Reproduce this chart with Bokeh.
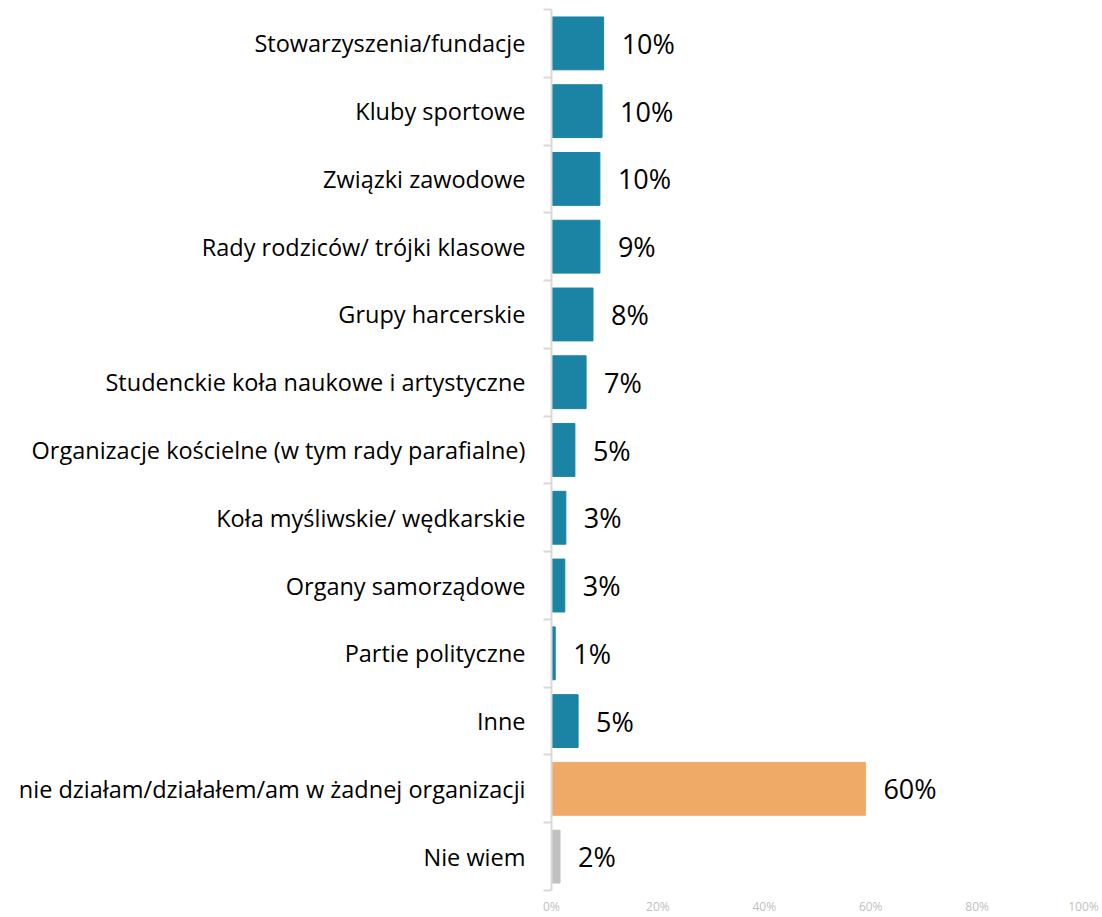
from bokeh.plotting import figure
from bokeh.models import Range1d, FixedTicker, ColumnDataSource
from bokeh.core.properties import value
from bokeh.embed import file_html
from bokeh.resources import INLINE

categories = [
    "Stowarzyszenia/fundacje",
    "Kluby sportowe",
    "Związki zawodowe",
    "Rady rodziców/ trójki klasowe",
    "Grupy harcerskie",
    "Studenckie koła naukowe i artystyczne",
    "Organizacje kościelne (w tym rady parafialne)",
    "Koła myśliwskie/ wędkarskie",
    "Organy samorządowe",
    "Partie polityczne",
    "Inne",
    "nie działam/działałem/am w żadnej organizacji",
    "Nie wiem",
]
values = [9.8, 9.5, 9.1, 9.1, 7.8, 6.5, 4.4, 2.7, 2.5, 0.7, 5.0, 59.0, 1.6]
labels = ["10%", "10%", "10%", "9%", "8%", "7%", "5%", "3%", "3%", "1%", "5%", "60%", "2%"]
kinds = ["org"] * 11 + ["none", "dk"]
palette = {"org": "#1b84a5", "none": "#f0aa67", "dk": "#c0c0c0"}
x_ticks = [0, 20, 40, 60, 80, 100]

n = len(categories)
pos = [i + 0.5 for i in range(n)]
src = ColumnDataSource(dict(
    y=pos, v=values, lab=labels, color=[palette[k] for k in kinds]
))

p = figure(width=1102, height=917, output_backend="svg", toolbar_location=None,
           x_range=Range1d(0, 100), y_range=Range1d(n, 0),
           min_border_left=551, min_border_right=19, min_border_top=9, min_border_bottom=27)
p.outline_line_color = None
p.xgrid.visible = False
p.ygrid.visible = False
p.background_fill_color = "white"
p.border_fill_color = "white"

p.hbar(y="y", right="v", left=0, height=0.78, color="color", source=src)
p.text(x="v", y="y", text="lab", source=src, x_offset=18, text_align="left",
       text_baseline="middle", text_font=value("Open Sans"), text_font_size="27px",
       text_color="#000000")

# y axis
ya = p.yaxis[0]
ya.ticker = FixedTicker(ticks=pos, minor_ticks=list(range(n + 1)))
ya.major_label_overrides = {pos[i]: categories[i] for i in range(n)}
ya.major_tick_out = 0
ya.major_tick_in = 0
ya.minor_tick_out = 8
ya.minor_tick_in = 0
ya.minor_tick_line_color = "#d9d9d9"
ya.minor_tick_line_width = 2
ya.axis_line_color = "#d9d9d9"
ya.axis_line_width = 2
ya.major_label_standoff = 18
ya.major_label_text_font = "Open Sans"
ya.major_label_text_font_size = "23.5px"
ya.major_label_text_color = "#000000"

# x axis
xa = p.xaxis[0]
xa.ticker = FixedTicker(ticks=x_ticks)
xa.major_label_overrides = {t: f"{t}%" for t in x_ticks}
xa.axis_line_color = None
xa.major_tick_line_color = None
xa.minor_tick_line_color = None
xa.major_label_standoff = 1
xa.major_label_text_font = "Open Sans"
xa.major_label_text_font_size = "12px"
xa.major_label_text_color = "#bfbfbf"

open("out.html", "w").write(file_html(p, INLINE))
